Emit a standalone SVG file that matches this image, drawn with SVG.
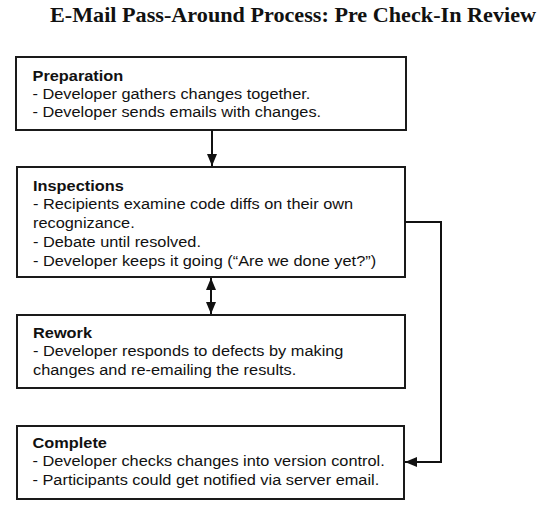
<svg xmlns="http://www.w3.org/2000/svg" width="554" height="511" viewBox="0 0 554 511">
<defs>
<style>
.box{fill:#fff;stroke:#1a1a1a;stroke-width:2}
.t{font-family:"Liberation Sans",Arial,sans-serif;font-size:14.5px;fill:#111}
.h{font-weight:bold}
.title{font-family:"Liberation Serif","Times New Roman",serif;font-size:21px;font-weight:bold;fill:#111}
.c{fill:none;stroke:#111;stroke-width:2}
</style>
<marker id="ah" viewBox="0 0 12 10" refX="12" refY="5" markerWidth="12" markerHeight="10" markerUnits="userSpaceOnUse" orient="auto-start-reverse">
<path d="M0,0 L12,5 L0,10 Z" fill="#111"/>
</marker>
</defs>
<rect width="554" height="511" fill="#fff"/>
<text class="title" x="293" y="22" text-anchor="middle" textLength="486" lengthAdjust="spacingAndGlyphs">E-Mail Pass-Around Process: Pre Check-In Review</text>
<g id="preparation">
<rect class="box" x="16" y="57" width="390" height="73"/>
<g transform="matrix(1.127,0,0,1,32.5,0)">
<text class="t h" x="0" y="81">Preparation</text>
<text class="t" x="0" y="99">- Developer gathers changes together.</text>
<text class="t" x="0" y="117">- Developer sends emails with changes.</text>
</g>
</g>
<g id="inspections">
<rect class="box" x="17" y="167" width="388" height="110"/>
<g transform="matrix(1.127,0,0,1,33,0)">
<text class="t h" x="0" y="191">Inspections</text>
<text class="t" x="0" y="209.5">- Recipients examine code diffs on their own</text>
<text class="t" x="0" y="228.5">recognizance.</text>
<text class="t" x="0" y="247.5">- Debate until resolved.</text>
<text class="t" x="0" y="266">- Developer keeps it going (“Are we done yet?”)</text>
</g>
</g>
<g id="rework">
<rect class="box" x="17" y="315" width="388" height="73"/>
<g transform="matrix(1.127,0,0,1,33,0)">
<text class="t h" x="0" y="338">Rework</text>
<text class="t" x="0" y="356.5">- Developer responds to defects by making</text>
<text class="t" x="0" y="375">changes and re-emailing the results.</text>
</g>
</g>
<g id="complete">
<rect class="box" x="17" y="426" width="387" height="73"/>
<g transform="matrix(1.127,0,0,1,32.5,0)">
<text class="t h" x="0" y="448">Complete</text>
<text class="t" x="0" y="466.5">- Developer checks changes into version control.</text>
<text class="t" x="0" y="485">- Participants could get notified via server email.</text>
</g>
</g>
<g id="connectors">
<line class="c" x1="212" y1="130" x2="212" y2="166" marker-end="url(#ah)"/>
<line class="c" x1="211" y1="278" x2="211" y2="314" marker-start="url(#ah)" marker-end="url(#ah)"/>
<polyline class="c" points="405,222 441,222 441,462 405,462" marker-end="url(#ah)"/>
</g>
</svg>
